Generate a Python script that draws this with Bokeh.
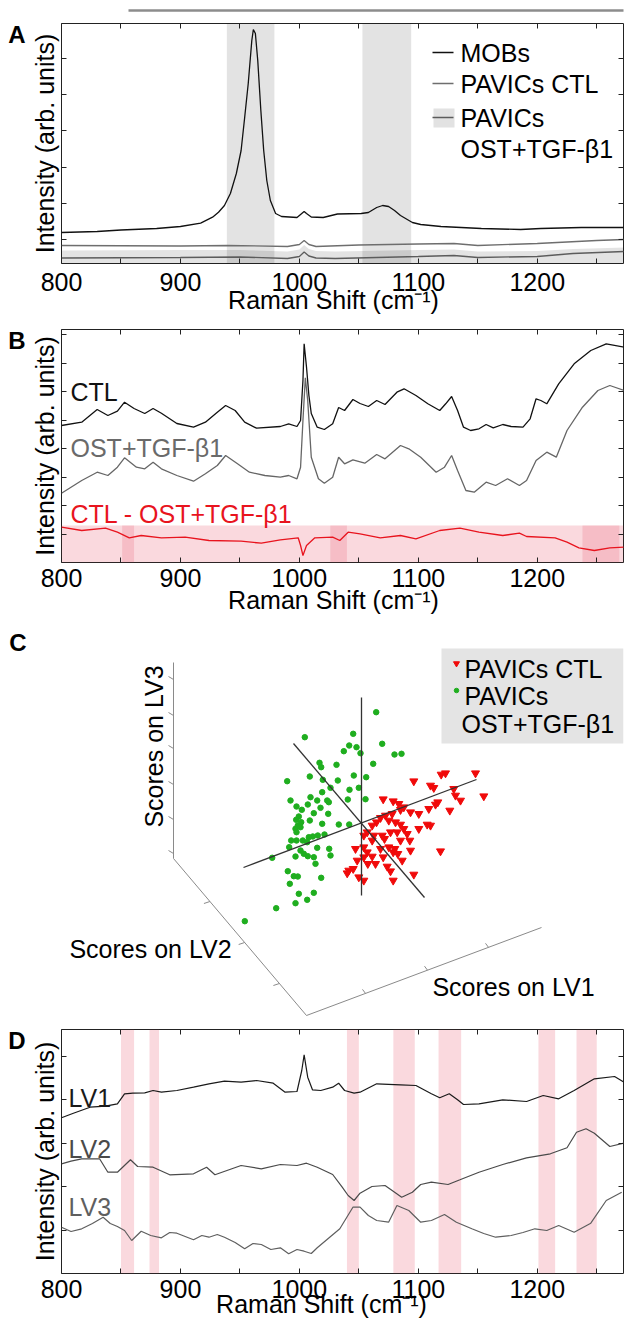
import json
import math
from bokeh.plotting import figure
from bokeh.models import Range1d, FixedTicker, LinearAxis, CustomJSTickFormatter
from bokeh.layouts import column
from bokeh.core.properties import value
from bokeh.embed import file_html
from bokeh.resources import INLINE

FONT = "Liberation Sans"

# ---------------- Panel A: mean spectra (arb. units) ----------------
a_mobs_x = [800, 830, 850, 880, 900, 917, 927, 932, 937, 942, 947, 951, 954, 957, 960, 961.3, 963, 965,
            967.6, 970, 972.6, 975.6, 980, 985, 998, 1002, 1004, 1006, 1010, 1020, 1032, 1052, 1058, 1065,
            1070, 1075, 1080, 1085, 1095, 1102, 1119, 1153, 1186, 1203, 1237, 1273]
a_mobs_y = [31, 32, 33.5, 35, 37, 40.3, 46.3, 51.3, 58, 70, 90, 113, 146, 180, 223, 234, 230, 203,
            153, 113, 83, 63, 50, 47, 46, 50, 52, 50, 46.5, 46, 49.5, 50, 51, 56,
            58, 57, 53, 48, 41, 39, 37, 35, 34, 35, 36, 36]
a_ctl_x = [800, 900, 940, 990, 1000, 1004, 1008, 1014, 1050, 1100, 1130, 1150, 1200, 1250, 1273]
a_ctl_y = [18, 17.5, 18, 17, 19, 23, 19, 17, 18.5, 19.5, 20, 18, 20, 23, 24]
a_ost_x = [800, 900, 950, 990, 1000, 1004, 1008, 1014, 1030, 1100, 1130, 1150, 1200, 1230, 1273]
a_ost_y = [5.5, 6, 6.5, 5, 7, 11.5, 7.5, 5.5, 5, 7, 8, 6, 7, 10, 12]
a_ost_sd = [7.5, 7.5, 7, 7, 7, 7, 7, 7, 7, 6.5, 6, 6, 5.5, 4.5, 4]
a_bands = [(939, 979), (1053, 1094)]
a_yticks = [24, 60.2, 96.4, 132.6, 168.8, 205]
a_legend = ["MOBs", "PAVICs CTL", "PAVICs", "OST+TGF-β1"]

# ---------------- Panel B ----------------
b_ctl_x = [800, 817, 830, 839, 847, 853, 861, 870, 877, 884, 897, 911, 921, 931, 938, 946, 954, 964, 984,
           991, 998, 1001, 1003, 1004, 1006, 1008, 1010, 1015, 1021, 1028, 1033, 1038, 1045, 1051, 1058,
           1065, 1072, 1082, 1088, 1098, 1108, 1118, 1123, 1128, 1133, 1138, 1144, 1151, 1157, 1163, 1171,
           1178, 1188, 1194, 1199, 1203, 1208, 1218, 1231, 1245, 1258, 1273]
b_ctl_y = [137, 140.3, 153, 147, 151.3, 160.3, 154, 149, 154, 149.3, 139, 135.3, 140.3, 150.3, 157, 152,
           140.3, 134.3, 136, 138.7, 136, 142, 182, 218.7, 195.3, 167, 149, 135.3, 133, 138.7, 155, 152,
           163, 159, 156, 162, 158, 170.3, 173.7, 167, 158.7, 152, 158.7, 166, 152, 135.3, 132, 133.7,
           138, 134.7, 138, 136, 135.3, 143.7, 163.7, 162, 158.7, 178.7, 198.7, 212, 218.7, 215.3]
b_ost_x = [800, 817, 830, 839, 847, 853, 863, 870, 877, 884, 897, 911, 921, 931, 938, 948, 958, 971, 984,
           991, 998, 1001, 1003, 1005, 1007, 1010, 1016, 1021, 1028, 1033, 1038, 1045, 1055, 1065, 1072,
           1085, 1092, 1102, 1115, 1122, 1128, 1133, 1140, 1147, 1157, 1165, 1175, 1185, 1191, 1199, 1208,
           1216, 1225, 1238, 1251, 1261, 1273]
b_ost_y = [69.3, 82, 90.3, 87, 95.3, 104.7, 95.3, 93.7, 100.3, 93.7, 87, 81.3, 88.7, 97, 107, 98.7, 90.3,
           87, 85.3, 87, 83.7, 95.3, 142, 184.7, 162, 105.3, 83.7, 79.3, 85.3, 105.3, 98.7, 102.7, 99.3,
           108, 103.7, 117, 113.7, 105.3, 90.3, 95.3, 107, 92, 72, 70.3, 80.3, 77, 83.7, 77, 82, 102,
           110.3, 105.3, 132, 155.3, 172, 177, 172]
b_diff_x = [800, 817, 837, 847, 857, 867, 884, 904, 924, 951, 968, 984, 999, 1001, 1003, 1006, 1013, 1028,
            1034, 1041, 1051, 1068, 1085, 1098, 1118, 1135, 1151, 1171, 1185, 1191, 1215, 1225, 1235,
            1248, 1261, 1273]
b_diff_y = [35.3, 32, 34.3, 30.3, 24.7, 27, 24.7, 25.3, 22, 21.3, 19.3, 22.7, 24.7, 17, 7, 17, 24.7, 25.3,
            22, 30.3, 28.7, 24.7, 27, 23.7, 32, 34.3, 30.3, 27, 29.3, 26, 24.7, 20.3, 14.7, 12, 14.7, 15.3]
b_diff_top = 37
b_bands = [(851, 861), (1026, 1040), (1238, 1269)]
b_yticks = [28.5, 57, 85.5, 114, 142.5, 171, 199.5, 228]
b_labels = ["CTL", "OST+TGF-β1", "CTL - OST+TGF-β1"]

# ---------------- Panel C: projected PLS-DA scores ----------------
c_ost_x = [375.7, 304.3, 352.7, 348.7, 356, 381.7, 343.3, 360, 394, 401, 319, 336, 372.7, 320.7, 286.7,
           309.3, 353.3, 365.7, 337.3, 322.3, 330, 358.3, 349, 347.3, 365, 321.7, 310, 316.7, 326.7, 290,
           301.3, 307.3, 296, 328.3, 313.3, 320, 298.3, 295.7, 300.7, 297.3, 295, 300, 327.7, 338.3, 348.7,
           321.7, 309.3, 324, 312.3, 308.3, 317.3, 296, 290.7, 296, 302.3, 306.7, 288.7, 300, 316.7, 328.7,
           330, 303.3, 307.3, 313.3, 315, 271.7, 295, 287.3, 293.3, 297.3, 320.7, 289.3, 298.3, 313.3,
           306.7, 295, 275.7, 244.3]
c_ost_y = [711.7, 736.7, 733.3, 745, 746.7, 743.3, 750.7, 752.7, 754, 753.3, 762.3, 764.3, 763.3, 766.7,
           780.7, 776, 775, 776.7, 780, 779.3, 787.3, 787.3, 789.3, 799, 798.7, 791.7, 796.7, 800, 800, 800,
           809.3, 804, 806, 801.7, 812.7, 807.3, 816, 819.3, 821.7, 825, 828.3, 826.7, 813.3, 824, 824,
           823.3, 820, 834, 836, 836.7, 835, 831.7, 840, 840, 840, 841.7, 846.7, 850, 847.3, 848.3, 855,
           853.3, 855.7, 856.7, 863.3, 857.3, 856, 870.7, 875.7, 876, 877.3, 883.3, 893.3, 892.3, 899.3,
           902.7, 907.7, 920.7]
c_ctl_x = [445, 440.7, 475, 483.3, 413.3, 430, 433.3, 453.3, 455, 460, 437.3, 435, 428.3, 449.3, 382.7,
           392.7, 398.3, 403.3, 410, 418.3, 426.7, 430, 400, 391.7, 385, 380, 376, 371.7, 388.3, 395, 400,
           403.3, 396.7, 390, 381.7, 384, 363.3, 366.7, 373.3, 406.7, 409.3, 418.3, 400, 394.3, 388.3, 380,
           392.7, 397.3, 410, 440, 355, 363.3, 366.7, 356.7, 363.3, 371.7, 375, 367.3, 348.3, 346.7, 352.7,
           358.3, 363.3, 390, 392.7, 413.3, 401.7, 382.7, 386.7, 371.7]
c_ctl_y = [772.7, 774, 772.7, 795.7, 780.7, 785, 787.3, 788.3, 795, 800, 801.7, 804, 808.3, 810, 798.7,
           800.7, 803.3, 806.7, 811.7, 813.3, 824, 825, 809.3, 813.3, 815, 817.3, 821.7, 825, 820, 821.7,
           824, 828.3, 831.7, 831.7, 835, 838.3, 835, 831.7, 835, 833.3, 840, 828.3, 840, 848.3, 846.7,
           848.3, 851.7, 853.3, 850, 850.7, 848.3, 846.7, 851.7, 860, 856.7, 856, 863.3, 863.3, 870, 872.7,
           868.3, 876.7, 880, 870.7, 880, 874, 860, 856.7, 866, 840]
c_legend = ["PAVICs CTL", "PAVICs", "OST+TGF-β1"]
c_axis_titles = ["Scores on LV1", "Scores on LV2", "Scores on LV3"]

# ---------------- Panel D: latent-variable loadings ----------------
d_lv1_x = [800, 810, 824, 837, 847, 853, 860, 870, 877, 884, 897, 911, 924, 937, 951, 964, 978, 988, 998,
           1002, 1004, 1007, 1011, 1018, 1028, 1033, 1038, 1046, 1051, 1065, 1085, 1098, 1111, 1118, 1126,
           1133, 1138, 1151, 1171, 1191, 1205, 1218, 1231, 1248, 1265, 1273]
d_lv1_y = [155.7, 160.3, 166.3, 167.3, 169.7, 179.7, 180.3, 180.7, 183, 181.3, 183, 186.3, 189.7, 192.3,
           191.3, 193, 190.3, 181.3, 182, 203, 218.7, 196.3, 183.7, 183, 186.3, 190.3, 183, 180.3, 181.3,
           189.7, 188.7, 188, 179.7, 175.7, 179.7, 173.7, 169, 169.7, 173.7, 172, 178, 174.7, 183, 194.7,
           197, 191.3]
d_lv2_x = [800, 808, 817, 832, 839, 847, 858, 864, 877, 891, 911, 922, 929, 951, 968, 984, 998, 1006, 1015,
           1028, 1036, 1041, 1046, 1051, 1061, 1072, 1078, 1086, 1095, 1102, 1111, 1125, 1135, 1151, 1171,
           1191, 1211, 1225, 1233, 1241, 1248, 1261, 1273]
d_lv2_y = [109.7, 112.3, 114.7, 114.7, 101.3, 101.3, 113.7, 107, 106.3, 98.7, 99.7, 106.3, 98.7, 108,
           104.7, 109, 108, 110.3, 106.3, 99, 86.3, 78, 73, 80.3, 87, 88, 83, 76.3, 81.3, 89, 91.3, 89,
           93.7, 101.3, 109, 115.7, 119.7, 125.7, 141.3, 144.7, 140.3, 127, 130.3]
d_lv3_x = [800, 808, 817, 826, 835, 841, 847, 853, 859, 867, 875, 884, 891, 897, 904, 911, 918, 924, 931,
           937, 946, 954, 961, 968, 976, 984, 991, 998, 1004, 1010, 1015, 1024, 1034, 1045, 1051, 1058,
           1065, 1075, 1082, 1092, 1102, 1111, 1122, 1132, 1145, 1155, 1165, 1178, 1188, 1198, 1208, 1218,
           1231, 1245, 1258, 1271]
d_lv3_y = [46.3, 42, 44.7, 50, 56.3, 50, 47, 43, 33, 42.3, 38, 35.7, 41, 40.3, 37, 33.7, 38, 36.3, 39,
           36.3, 31, 24.7, 30, 29, 24, 25.7, 19.7, 24, 22.3, 20, 25.7, 34.7, 44.7, 66.3, 66.3, 58,
           53, 51.3, 68, 63, 51.3, 53, 59, 51.3, 44.7, 40, 36.3, 38, 41, 44.7, 43, 48,
           41.3, 50.3, 73, 81.3]
d_bands = [(850, 861), (874, 882), (1040, 1050), (1079, 1097), (1117, 1136), (1201, 1215), (1233, 1250)]
d_yticks = [43.4, 86.8, 130.2, 173.6, 217]
d_labels = ["LV1", "LV2", "LV3"]

x_ticks = [800, 850, 900, 950, 1000, 1050, 1100, 1150, 1200, 1250]
X0, X1 = 800, 1272.5
LEFT = 61
FRAME_W = 562
KX = FRAME_W / (X1 - X0)
AX_COL = "#222222"
RAMAN = "Raman Shift (cm\u207b\u00b9)"
INTENS = "Intensity (arb. units)"
LETTER_SIZE = "24px"


def X(px):
    # page pixel -> wavenumber (for placing texts)
    return X0 + (px - LEFT) / KX


def const_fmt(text):
    return CustomJSTickFormatter(code="return " + json.dumps(text) + ";")


def bare_axis(ax):
    ax.major_tick_in = 0
    ax.major_tick_out = 0
    ax.minor_tick_in = 0
    ax.minor_tick_out = 0
    ax.axis_line_color = None
    ax.major_tick_line_color = None
    ax.minor_tick_line_color = None


def letter_axis(p, letter, ypos, standoff):
    ax = LinearAxis(ticker=FixedTicker(ticks=[ypos], minor_ticks=[]), formatter=const_fmt(letter))
    bare_axis(ax)
    ax.major_label_text_font = FONT
    ax.major_label_text_font_size = LETTER_SIZE
    ax.major_label_text_font_style = "bold"
    ax.major_label_text_color = "black"
    ax.major_label_standoff = standoff
    p.add_layout(ax, "left")


def spec_fig(top, frame_h, bottom, yticks, standoff, xlabel_px, xlabel_standoff, letter, letter_y,
             top_line=False):
    p = figure(width=LEFT + FRAME_W + 1, height=top + frame_h + bottom,
               x_range=Range1d(X0, X1), y_range=Range1d(0, frame_h),
               output_backend="svg", toolbar_location=None,
               x_axis_location=None, y_axis_location=None,
               min_border_left=LEFT, min_border_right=1, min_border_top=top, min_border_bottom=bottom)
    p.outline_line_color = AX_COL
    p.background_fill_color = "white"
    p.border_fill_color = "white"
    p.grid.visible = False
    xt = FixedTicker(ticks=x_ticks, minor_ticks=[])
    yt = FixedTicker(ticks=yticks, minor_ticks=[])
    blank = CustomJSTickFormatter(code="return '';")
    hund = CustomJSTickFormatter(code="return (Math.round(tick) % 100 == 0) ? tick.toFixed(0) : '';")
    axes = [
        (LinearAxis(ticker=xt, formatter=hund), "below"),
        (LinearAxis(ticker=xt, formatter=blank), "above"),
        (LinearAxis(ticker=yt, formatter=blank), "left"),
        (LinearAxis(ticker=yt, formatter=blank), "right"),
    ]
    for ax, loc in axes:
        ax.major_tick_in = 5
        ax.major_tick_out = 0
        ax.minor_tick_in = 0
        ax.minor_tick_out = 0
        ax.major_tick_line_color = AX_COL
        ax.axis_line_color = None
        ax.major_label_standoff = 0
        ax.major_label_text_font_size = "1px"
        p.add_layout(ax, loc)
    b = axes[0][0]
    b.major_label_text_font = FONT
    b.major_label_text_font_size = "25px"
    b.major_label_text_color = "black"
    b.major_label_standoff = standoff
    l = axes[2][0]
    l.axis_label = INTENS
    l.axis_label_text_font = FONT
    l.axis_label_text_font_size = "25px"
    l.axis_label_text_font_style = "normal"
    l.axis_label_text_color = "black"
    l.axis_label_standoff = 3
    if top_line:
        # spacer axis (invisible title) so that the next axis' rule sits near the top of the image
        sp = LinearAxis(ticker=FixedTicker(ticks=[], minor_ticks=[]), formatter=blank)
        bare_axis(sp)
        sp.major_label_text_font_size = "1px"
        sp.axis_label = "."
        sp.axis_label_text_font_size = "13px"
        sp.axis_label_text_alpha = 0
        sp.axis_label_standoff = 1
        p.add_layout(sp, "above")
        # the cropped rule of the figure above, seen at the very top of the image
        tl = LinearAxis(ticker=FixedTicker(ticks=[], minor_ticks=[]), formatter=blank,
                        bounds=(X(128), X1))
        bare_axis(tl)
        tl.axis_line_color = "#8c8c8c"
        tl.axis_line_width = 2.5
        tl.major_label_text_font_size = "1px"
        p.add_layout(tl, "above")
    # x-axis title as a single labelled tick on a second bottom axis
    xl = LinearAxis(ticker=FixedTicker(ticks=[X(xlabel_px)], minor_ticks=[]), formatter=const_fmt(RAMAN))
    bare_axis(xl)
    xl.major_label_text_font = FONT
    xl.major_label_text_font_size = "25px"
    xl.major_label_text_color = "black"
    xl.major_label_standoff = xlabel_standoff
    p.add_layout(xl, "below")
    letter_axis(p, letter, letter_y, 2)
    return p


def add_text(p, x, y, text, color="black", size="25px"):
    p.text(x=[x], y=[y], text=[text], text_font=value(FONT), text_font_size=value(size),
           text_color=color, text_align="left", text_baseline="middle")


# ---------- A ----------
pA = spec_fig(23, 240, 62, a_yticks, 9, 333, -8, "A", 263 - 33.5, top_line=True)
for lo, hi in a_bands:
    pA.quad(left=lo, right=hi, bottom=0, top=240, fill_color="black", fill_alpha=0.11, line_color=None)
pA.varea(x=a_ost_x, y1=[0] * len(a_ost_x), y2=[v + s for v, s in zip(a_ost_y, a_ost_sd)],
         fill_color="black", fill_alpha=0.11)
pA.line(a_ost_x, a_ost_y, line_color="#5c5c5c", line_width=1.3)
pA.line(a_ctl_x, a_ctl_y, line_color="#6e6e6e", line_width=1.3)
pA.line(a_mobs_x, a_mobs_y, line_color="#111111", line_width=1.3)
pA.quad(left=X(433), right=X(454), bottom=263 - 127, top=263 - 108, fill_color="#e2e2e2", line_color=None)
for yy, col in [(263 - 52, "#111111"), (263 - 83, "#6e6e6e"), (263 - 117, "#5c5c5c")]:
    pA.segment(x0=[X(432)], y0=[yy], x1=[X(453)], y1=[yy], line_color=col, line_width=1.3)
for txt, py in zip(a_legend, [52, 83, 117, 148]):
    add_text(pA, X(460), 263 - py, txt)

# ---------- B ----------
pB = spec_fig(4, 233, 62, b_yticks, 6, 333, -4, "B", 562 - 340)
pB.quad(left=X0, right=X1, bottom=0, top=b_diff_top, fill_color="#e8506a", fill_alpha=0.22, line_color=None)
for lo, hi in b_bands:
    pB.quad(left=lo, right=hi, bottom=0, top=b_diff_top, fill_color="#e8506a", fill_alpha=0.2, line_color=None)
pB.line(b_ost_x, b_ost_y, line_color="#666666", line_width=1.3)
pB.line(b_ctl_x, b_ctl_y, line_color="#111111", line_width=1.3)
pB.line(b_diff_x, b_diff_y, line_color="#e8141e", line_width=1.3)
add_text(pB, X(70), 562 - 391, b_labels[0], color="#111111")
add_text(pB, X(70), 562 - 447, b_labels[1], color="#6a6a6a")
add_text(pB, X(70), 562 - 513, b_labels[2], color="#e8141e")

# ---------- C ----------
C_TOP = 624
pC = figure(width=LEFT + FRAME_W + 1, height=1018 - C_TOP, x_range=Range1d(LEFT, LEFT + FRAME_W),
            y_range=Range1d(1018, C_TOP), output_backend="svg", toolbar_location=None,
            x_axis_location=None, y_axis_location=None,
            min_border_left=LEFT, min_border_right=1, min_border_top=0, min_border_bottom=0)
pC.outline_line_color = None
pC.background_fill_color = "white"
pC.border_fill_color = "white"
pC.grid.visible = False
letter_axis(pC, "C", 633.5, 35)
axc = "#8a8a8a"
pC.line([173, 173, 306, 541], [662, 858, 1015, 927], line_color=axc, line_width=1)
lv3_t = [679, 715, 748, 784, 819, 853]
pC.segment(x0=[173] * 6, y0=lv3_t, x1=[168] * 6, y1=[t - 3 for t in lv3_t], line_color=axc)
lv2_ty = [901, 942, 983]
lv2_tx = [173 + (t - 858) * 133 / 157 for t in lv2_ty]
pC.segment(x0=lv2_tx, y0=lv2_ty, x1=[x - 6 for x in lv2_tx], y1=[t + 2 for t in lv2_ty], line_color=axc)
lv1_tx = [365, 427, 488]
lv1_ty = [1015 - 0.3745 * (x - 306) for x in lv1_tx]
pC.segment(x0=lv1_tx, y0=lv1_ty, x1=[x - 3 for x in lv1_tx], y1=[y - 4 for y in lv1_ty], line_color=axc)
pC.scatter(c_ost_x, c_ost_y, marker="circle", size=5.5, fill_color="#1fae1f", line_color="#1fae1f")
pC.scatter(c_ctl_x, c_ctl_y, marker="inverted_triangle", size=8, fill_color="#f00a0a", line_color="#f00a0a")
pC.segment(x0=[361, 243, 293], y0=[697, 867, 743], x1=[361, 476, 424], y1=[895, 779, 897],
           line_color="#333333", line_width=1.3)
pC.text(x=[153], y=[746], text=[c_axis_titles[2]], angle=math.pi / 2, text_font=value(FONT),
        text_font_size=value("25px"), text_align="center", text_baseline="middle", text_color="black")
pC.text(x=[150, 513], y=[948, 986], text=[c_axis_titles[1], c_axis_titles[0]], text_font=value(FONT),
        text_font_size=value("25px"), text_align="center", text_baseline="middle", text_color="black")
pC.quad(left=441, right=LEFT + FRAME_W, top=648, bottom=743, fill_color="#e4e4e4", line_color=None)
pC.scatter([456], [663], marker="inverted_triangle", size=6, fill_color="#f00a0a", line_color="#f00a0a")
pC.scatter([456], [690], marker="circle", size=4.5, fill_color="#1fae1f", line_color="#1fae1f")
pC.text(x=[464, 464, 461], y=[668, 695, 723], text=c_legend, text_font=value(FONT),
        text_font_size=value("25px"), text_align="left", text_baseline="middle", text_color="black")

# ---------- D ----------
pD = spec_fig(11, 244, 51, d_yticks, 6, 321, -11, "D", 1273 - 1039.5)
for lo, hi in d_bands:
    pD.quad(left=lo, right=hi, bottom=0, top=244, fill_color="#e8506a", fill_alpha=0.22, line_color=None)
pD.line(d_lv3_x, d_lv3_y, line_color="#5f5f5f", line_width=1.2)
pD.line(d_lv2_x, d_lv2_y, line_color="#4a4a4a", line_width=1.2)
pD.line(d_lv1_x, d_lv1_y, line_color="#1a1a1a", line_width=1.2)
add_text(pD, X(68), 1273 - 1097.5, d_labels[0], color="#1a1a1a")
add_text(pD, X(68), 1273 - 1148.5, d_labels[1], color="#4a4a4a")
add_text(pD, X(68), 1273 - 1206, d_labels[2], color="#5f5f5f")

layout = column(pA, pB, pC, pD, spacing=0)
open("out.html", "w").write(file_html(layout, INLINE))
